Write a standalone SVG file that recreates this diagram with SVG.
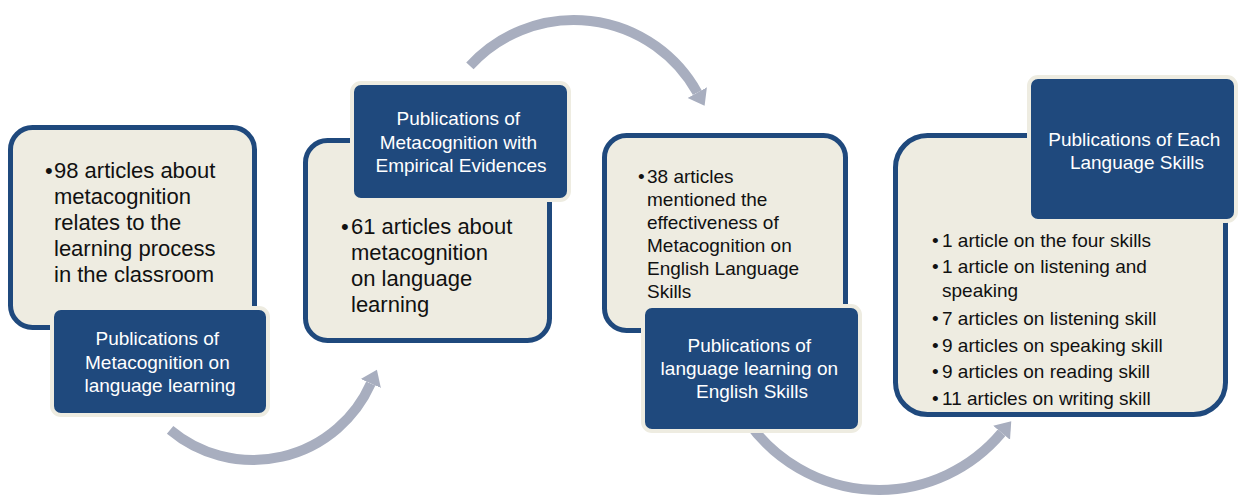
<svg xmlns="http://www.w3.org/2000/svg" width="1239" height="499" viewBox="0 0 1239 499">
  <defs>
    <marker id="head" markerUnits="userSpaceOnUse" markerWidth="16" markerHeight="24" viewBox="0 -12 16 24" refX="0" refY="0" orient="auto">
      <path d="M0,-11 L15,0 L0,11 z" fill="#a8aebf"/>
    </marker>
  </defs>
  <style>
    .panel { fill: #eeece1; stroke: #1f497d; stroke-width: 5; }
    .title { fill: #1f497d; stroke: #eeece1; stroke-width: 4; }
    .body { font-family: "Liberation Sans", Arial, sans-serif; fill: #111111; }
    .big { font-size: 22px; }
    .small { font-size: 19px; }
    .head { font-family: "Liberation Sans", Arial, sans-serif; font-size: 19px; fill: #ffffff; text-anchor: middle; }
    .flow { fill: none; stroke: #a8aebf; stroke-width: 10; stroke-linecap: butt; marker-end: url(#head); }
  </style>
  <rect width="1239" height="499" fill="#ffffff"/>

  <!-- curved arrows linking the stages -->
  <g id="connectors">
    <path class="flow" d="M170.1,429.8 A129,129 0 0 0 370.8,383.5"/>
    <path class="flow" d="M469.9,65.9 A141,141 0 0 1 697.3,92.6"/>
    <path class="flow" d="M748,421.8 A160,160 0 0 0 1001.6,432.8"/>
  </g>

  <!-- stage 1 -->
  <g id="stage1">
    <rect class="panel" x="10.5" y="127.5" width="244" height="200" rx="22"/>
    <text class="body big" x="45" y="178">•</text>
    <text class="body big">
      <tspan x="54" y="178">98 articles about</tspan>
      <tspan x="54" y="204">metacognition</tspan>
      <tspan x="54" y="230">relates to the</tspan>
      <tspan x="54" y="256">learning process</tspan>
      <tspan x="54" y="282">in the classroom</tspan>
    </text>
    <rect class="title" x="52" y="308" width="216" height="107" rx="9"/>
    <text class="head">
      <tspan x="160" y="345">Publications of</tspan>
      <tspan x="160" y="369">Metacognition on</tspan>
      <tspan x="160" y="392">language learning</tspan>
    </text>
  </g>

  <!-- stage 2 -->
  <g id="stage2">
    <rect class="panel" x="305.5" y="140.5" width="244" height="200" rx="22"/>
    <text class="body big" x="341" y="234">•</text>
    <text class="body big">
      <tspan x="351" y="234">61 articles about</tspan>
      <tspan x="351" y="260">metacognition</tspan>
      <tspan x="351" y="286">on language</tspan>
      <tspan x="351" y="312">learning</tspan>
    </text>
    <rect class="title" x="352" y="83" width="217" height="117" rx="9"/>
    <text class="head">
      <tspan x="461" y="125">Publications of</tspan>
      <tspan x="461" y="149">Metacognition with</tspan>
      <tspan x="461" y="172">Empirical Evidences</tspan>
    </text>
  </g>

  <!-- stage 3 -->
  <g id="stage3">
    <rect class="panel" x="604.5" y="135.5" width="241" height="195" rx="22"/>
    <text class="body small" x="638" y="183">•</text>
    <text class="body small">
      <tspan x="647" y="183">38 articles</tspan>
      <tspan x="647" y="206">mentioned the</tspan>
      <tspan x="647" y="229">effectiveness of</tspan>
      <tspan x="647" y="252">Metacognition on</tspan>
      <tspan x="647" y="275">English Language</tspan>
      <tspan x="647" y="298">Skills</tspan>
    </text>
    <rect class="title" x="643" y="306" width="217" height="125" rx="9"/>
    <text class="head">
      <tspan x="752" y="352">Publications of</tspan>
      <tspan x="752" y="375">language learning on</tspan>
      <tspan x="752" y="398">English Skills</tspan>
    </text>
  </g>

  <!-- stage 4 -->
  <g id="stage4">
    <rect class="panel" x="895.5" y="135.5" width="330" height="279" rx="32"/>
    <g class="body small">
      <text x="932" y="247">•</text>
      <text x="942" y="247">1 article on the four skills</text>
      <text x="932" y="273">•</text>
      <text x="942" y="273">1 article on listening and</text>
      <text x="942" y="297">speaking</text>
      <text x="932" y="325">•</text>
      <text x="942" y="325">7 articles on listening skill</text>
      <text x="932" y="352">•</text>
      <text x="942" y="352">9 articles on speaking skill</text>
      <text x="932" y="378">•</text>
      <text x="942" y="378">9 articles on reading skill</text>
      <text x="932" y="405">•</text>
      <text x="942" y="405">11 articles on writing skill</text>
    </g>
    <rect class="title" x="1029" y="77" width="207" height="144" rx="9"/>
    <text class="head">
      <tspan x="1137" y="146">Publications of Each</tspan>
      <tspan x="1137" y="169">Language Skills</tspan>
    </text>
  </g>
</svg>
